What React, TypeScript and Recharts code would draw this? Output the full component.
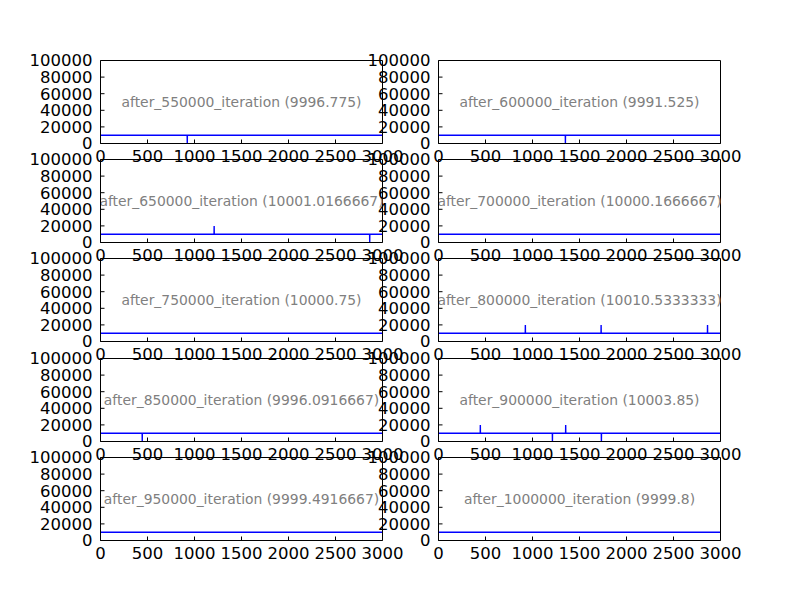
import React from "react";
import { LineChart, Line, XAxis, YAxis } from "recharts";

const xTicks = [0, 500, 1000, 1500, 2000, 2500, 3000];
const yTicks = [0, 20000, 40000, 60000, 80000, 100000];

const titles = [
  "after_550000_iteration (9996.775)",
  "after_600000_iteration (9991.525)",
  "after_650000_iteration (10001.0166667)",
  "after_700000_iteration (10000.1666667)",
  "after_750000_iteration (10000.75)",
  "after_800000_iteration (10010.5333333)",
  "after_850000_iteration (9996.0916667)",
  "after_900000_iteration (10003.85)",
  "after_950000_iteration (9999.4916667)",
  "after_1000000_iteration (9999.8)",
];

// [x, value] points (flat line near 10000 with single spikes)
const run550 = [[0, 10000], [922, 10000], [923, 0], [924, 10000], [2999, 10000]];
const run600 = [[0, 10000], [1349, 10000], [1350, 0], [1351, 10000], [2999, 10000]];
const run650 = [[0, 10000], [1208, 10000], [1209, 20000], [1210, 10000], [2863, 10000], [2864, 0], [2865, 10000], [2999, 10000]];
const run700 = [[0, 10000], [2999, 10000]];
const run750 = [[0, 10000], [2999, 10000]];
const run800 = [[0, 10000], [923, 10000], [924, 20000], [925, 10000], [1729, 10000], [1730, 20000], [1731, 10000], [2861, 10000], [2862, 20000], [2863, 10000], [2999, 10000]];
const run850 = [[0, 10000], [443, 10000], [444, 0], [445, 10000], [2999, 10000]];
const run900 = [[0, 10000], [444, 10000], [445, 20000], [446, 10000], [1211, 10000], [1212, 0], [1213, 10000], [1352, 10000], [1353, 20000], [1354, 10000], [1732, 10000], [1733, 0], [1734, 10000], [2999, 10000]];
const run950 = [[0, 10000], [2999, 10000]];
const run1000 = [[0, 10000], [2999, 10000]];

const runs = [run550, run600, run650, run700, run750, run800, run850, run900, run950, run1000];

const colLeft = [100.5, 438.5];
const rowTop = [60.5, 159.5, 258.5, 358.5, 457.5];
const plotW = 282;
const plotH = 83;

const tickStyle = { fill: "#000", fontSize: 16.5, fontFamily: "DejaVu Sans" };

function Panel({ index }: { index: number }) {
  const left = colLeft[index % 2];
  const top = rowTop[Math.floor(index / 2)];
  const data = runs[index].map(([x, y]) => ({ x, y }));
  return (
    <>
      <div style={{ position: "absolute", left: 0, top: 0 }}>
        <LineChart
          width={800}
          height={600}
          data={data}
          margin={{ top: top - 2, left: left - 60, right: 800 - left - plotW - 2, bottom: 600 - top - plotH - 30 }}
        >
          <XAxis dataKey="x" type="number" domain={[0, 3000]} ticks={xTicks} interval={0}
            tickSize={-4} tickMargin={11} height={30} stroke="#000" tick={tickStyle} />
          <XAxis xAxisId="top" dataKey="x" orientation="top" type="number" domain={[0, 3000]} ticks={xTicks}
            interval={0} tick={false} tickSize={-4} height={2} stroke="#000" />
          <YAxis type="number" domain={[0, 100000]} ticks={yTicks} interval={0}
            tickSize={-4} tickMargin={12} width={60} stroke="#000" tick={tickStyle} />
          <YAxis yAxisId="right" orientation="right" type="number" domain={[0, 100000]} ticks={yTicks}
            interval={0} tick={false} tickSize={-4} width={2} stroke="#000" />
          {/* invisible copy so the top/right frame axes have a series of their own */}
          <Line xAxisId="top" yAxisId="right" dataKey="y" stroke="none" dot={false} isAnimationActive={false} />
          <Line dataKey="y" type="linear" stroke="#0000ff" strokeWidth={1.4} dot={false} isAnimationActive={false} />
        </LineChart>
      </div>
      {/* title text sits in the middle of the axes and is clipped to them */}
      <div
        style={{
          position: "absolute",
          left,
          top,
          width: plotW,
          height: plotH,
          overflow: "hidden",
          display: "flex",
          alignItems: "center",
          justifyContent: "center",
          whiteSpace: "nowrap",
          color: "#808080",
          fontSize: 13.9,
          fontFamily: "DejaVu Sans",
        }}
      >
        <span>{titles[index]}</span>
      </div>
    </>
  );
}

export default function App() {
  return (
    <div style={{ position: "absolute", left: 0, top: 0, width: 800, height: 600, background: "#fff" }}>
      {titles.map((_, i) => (
        <Panel key={i} index={i} />
      ))}
    </div>
  );
}
